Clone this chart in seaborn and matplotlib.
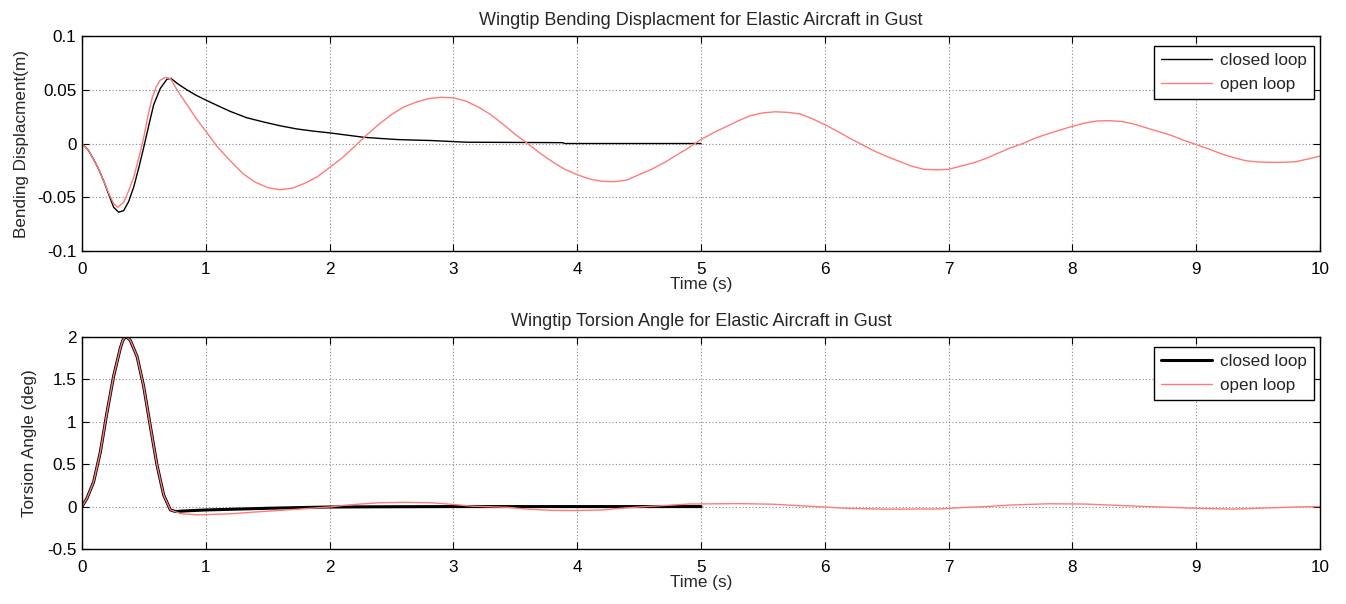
import matplotlib
matplotlib.use("Agg")
import matplotlib.pyplot as plt
import seaborn as sns
import pandas as pd

# ---------------- data ----------------
bend_t_cl = [0, 0.05, 0.094, 0.135, 0.175, 0.215, 0.256, 0.296, 0.337, 0.377, 0.417, 0.458,
             0.498, 0.54, 0.579, 0.633, 0.687, 0.72, 0.768, 0.849, 0.92, 0.997, 1.1, 1.199,
             1.33, 1.468, 1.6, 1.738, 1.87, 2.007, 2.14, 2.276, 2.41, 2.546, 2.68, 2.816,
             2.96, 3.11, 3.5, 3.88, 3.9, 5.0]
bend_cl = [0, -0.006, -0.0147, -0.024, -0.0347, -0.047, -0.0593, -0.0639, -0.0624, -0.054,
           -0.0409, -0.023, -0.004, 0.017, 0.036, 0.0513, 0.0599, 0.0605, 0.056, 0.0498,
           0.045, 0.0406, 0.035, 0.0298, 0.024, 0.020, 0.0165, 0.0135, 0.0115, 0.0098,
           0.0078, 0.0058, 0.0047, 0.0037, 0.0032, 0.0028, 0.002, 0.0012, 0.001, 0.0008,
           0.0, 0.0]

bend_t_ol = [0, 0.05, 0.094, 0.135, 0.175, 0.215, 0.256, 0.288, 0.337, 0.377, 0.417, 0.458,
             0.498, 0.53, 0.566, 0.6, 0.633, 0.673, 0.714, 0.768, 0.849, 0.93, 1.0,
             1.1, 1.2, 1.3, 1.4, 1.5, 1.6, 1.7, 1.8, 1.9, 2.0, 2.1, 2.2, 2.3, 2.4, 2.5,
             2.6, 2.7, 2.8, 2.9, 3.0, 3.1, 3.2, 3.3, 3.4, 3.5, 3.6, 3.7, 3.8, 3.9, 4.0,
             4.1, 4.2, 4.3, 4.4, 4.5, 4.6, 4.7, 4.8, 4.9, 5.0, 5.1, 5.2, 5.3, 5.4, 5.5,
             5.6, 5.7, 5.8, 5.9, 6.0, 6.1, 6.2, 6.3, 6.4, 6.5, 6.6, 6.7, 6.8, 6.9, 7.0,
             7.1, 7.2, 7.3, 7.4, 7.5, 7.6, 7.7, 7.8, 7.9, 8.0, 8.1, 8.2, 8.3, 8.4, 8.5,
             8.6, 8.7, 8.8, 8.9, 9.0, 9.1, 9.2, 9.3, 9.4, 9.5, 9.6, 9.7, 9.8, 9.9, 10.0]
bend_ol = [0, -0.006, -0.0147, -0.024, -0.0347, -0.046, -0.056, -0.0593, -0.0547, -0.044,
           -0.0316, -0.014, 0.0052, 0.024, 0.042, 0.053, 0.059, 0.0614, 0.0605, 0.0498,
           0.036, 0.022, 0.0114,
           -0.004, -0.0163, -0.028, -0.036, -0.041, -0.043, -0.0415, -0.037, -0.031,
           -0.0224, -0.0135, -0.003, 0.008, 0.018, 0.027, 0.034, 0.0385, 0.0418, 0.043,
           0.0425, 0.0395, 0.034, 0.027, 0.018, 0.0085, 0.0, -0.009, -0.017, -0.024,
           -0.029, -0.033, -0.0352, -0.0355, -0.034, -0.029, -0.024, -0.018, -0.011,
           -0.004, 0.0037, 0.010, 0.0155, 0.021, 0.026, 0.0285, 0.0295, 0.029, 0.0275,
           0.023, 0.0175, 0.0115, 0.005, -0.001, -0.007, -0.012, -0.0165, -0.021, -0.024,
           -0.0245, -0.024, -0.021, -0.018, -0.014, -0.009, -0.004, 0.0, 0.005, 0.009,
           0.0125, 0.016, 0.019, 0.021, 0.0212, 0.0205, 0.018, 0.0145, 0.011, 0.0075,
           0.003, -0.001, -0.005, -0.0095, -0.013, -0.016, -0.0172, -0.0175, -0.0175,
           -0.017, -0.0145, -0.0117]

tors_t_cl = [0, 0.04, 0.094, 0.148, 0.202, 0.256, 0.31, 0.33, 0.35, 0.37, 0.39, 0.445,
             0.498, 0.552, 0.606, 0.66, 0.714, 0.754, 0.85, 1.0, 1.25, 1.5, 1.75, 2.0,
             2.5, 3.0, 4.0, 5.0]
tors_cl = [0, 0.097, 0.29, 0.64, 1.11, 1.54, 1.87, 1.96, 2.0, 1.99, 1.96, 1.77, 1.42, 0.95,
           0.49, 0.136, -0.039, -0.058, -0.05, -0.04, -0.03, -0.02, -0.012, -0.005,
           -0.002, 0.0, 0.0, 0.0]

tors_t_ol = [0, 0.04, 0.094, 0.148, 0.202, 0.256, 0.31, 0.33, 0.35, 0.37, 0.39, 0.445,
             0.498, 0.552, 0.606, 0.66, 0.714, 0.754, 0.8, 0.94, 1.2, 1.44, 1.6, 1.8,
             2.0, 2.12, 2.25, 2.4, 2.6, 2.82, 3.0, 3.15, 3.45, 3.6, 3.8, 4.0, 4.2, 4.35,
             4.5, 4.7, 4.9, 5.3, 5.58, 5.8, 6.0, 6.17, 6.5, 6.92, 7.1, 7.3, 7.5, 7.8,
             8.1, 8.3, 8.55, 8.8, 9.05, 9.3, 9.5, 9.8, 10.0]
tors_ol = [0, 0.097, 0.29, 0.64, 1.11, 1.54, 1.87, 1.96, 2.0, 1.99, 1.96, 1.77, 1.42, 0.95,
           0.49, 0.136, -0.039, -0.06, -0.085, -0.098, -0.085, -0.06, -0.045, -0.025,
           -0.005, 0.015, 0.03, 0.045, 0.05, 0.045, 0.025, 0.005, -0.01, -0.03, -0.045,
           -0.047, -0.04, -0.02, -0.005, 0.012, 0.03, 0.035, 0.028, 0.01, -0.005, -0.02,
           -0.031, -0.028, -0.012, 0.0, 0.018, 0.033, 0.03, 0.018, 0.003, -0.01, -0.022,
           -0.03, -0.02, -0.005, 0.0]

x_ticks = [0, 1, 2, 3, 4, 5, 6, 7, 8, 9, 10]
x_labels = ["0", "1", "2", "3", "4", "5", "6", "7", "8", "9", "10"]
bend_ticks = [-0.1, -0.05, 0, 0.05, 0.1]
bend_labels = ["-0.1", "-0.05", "0", "0.05", "0.1"]
tors_ticks = [-0.5, 0, 0.5, 1, 1.5, 2]
tors_labels = ["-0.5", "0", "0.5", "1", "1.5", "2"]

# ---------------- style ----------------
sns.set_style("white")
plt.rcParams["font.family"] = ["Liberation Sans", "DejaVu Sans"]
plt.rcParams["axes.edgecolor"] = "black"
plt.rcParams["axes.linewidth"] = 1.0

FS = 12.3
RED = "#ff7a7a"
fig = plt.figure(figsize=(13.46, 6.04), dpi=100)
ax1 = fig.add_axes([0.0609, 0.5844, 0.9198, 0.356])
ax2 = fig.add_axes([0.0609, 0.0911, 0.9198, 0.351])


def style_axes(ax, yticks, ylabels, ylim, ylabel, title, ylabelpad):
    ax.set_xlim(0, 10)
    ax.set_ylim(*ylim)
    ax.set_xticks(x_ticks)
    ax.set_xticklabels(x_labels, fontsize=FS)
    ax.set_yticks(yticks)
    ax.set_yticklabels(ylabels, fontsize=FS)
    ax.tick_params(direction="in", length=5, width=0.8, top=True, right=True,
                   bottom=True, left=True, colors="black")
    ax.tick_params(axis="x", pad=8)
    ax.tick_params(axis="y", pad=4)
    ax.grid(True, color="#888888", linestyle=(0, (1, 2)), linewidth=0.8)
    for s in ax.spines.values():
        s.set_visible(True)
        s.set_color("black")
    ax.set_xlabel("Time (s)", fontsize=FS, labelpad=0)
    ax.set_ylabel(ylabel, fontsize=FS, labelpad=ylabelpad)
    ax.set_title(title, fontsize=13, pad=8)
    leg = ax.legend(loc="upper right", fontsize=FS, frameon=True, fancybox=False,
                    edgecolor="black", framealpha=1, borderpad=0.42, borderaxespad=0,
                    handlelength=3.0, handletextpad=0.45, labelspacing=0.5,
                    bbox_to_anchor=(0.995, 0.953))
    leg.get_frame().set_linewidth(1.0)


df_b_cl = pd.DataFrame({"t": bend_t_cl, "v": bend_cl})
df_b_ol = pd.DataFrame({"t": bend_t_ol, "v": bend_ol})
sns.lineplot(data=df_b_cl, x="t", y="v", ax=ax1, color="black", linewidth=1.0,
             estimator=None, sort=False, label="closed loop")
sns.lineplot(data=df_b_ol, x="t", y="v", ax=ax1, color=RED, linewidth=1.0,
             estimator=None, sort=False, label="open loop")
style_axes(ax1, bend_ticks, bend_labels, (-0.1, 0.1), "Bending Displacment(m)",
           "Wingtip Bending Displacment for Elastic Aircraft in Gust", 6)

df_t_cl = pd.DataFrame({"t": tors_t_cl, "v": tors_cl})
df_t_ol = pd.DataFrame({"t": tors_t_ol, "v": tors_ol})
sns.lineplot(data=df_t_cl, x="t", y="v", ax=ax2, color="black", linewidth=2.2,
             estimator=None, sort=False, label="closed loop")
sns.lineplot(data=df_t_ol, x="t", y="v", ax=ax2, color=RED, linewidth=1.0,
             estimator=None, sort=False, label="open loop")
style_axes(ax2, tors_ticks, tors_labels, (-0.5, 2), "Torsion Angle (deg)",
           "Wingtip Torsion Angle for Elastic Aircraft in Gust", 7)

fig.savefig("out.png", dpi=100, facecolor="white")
